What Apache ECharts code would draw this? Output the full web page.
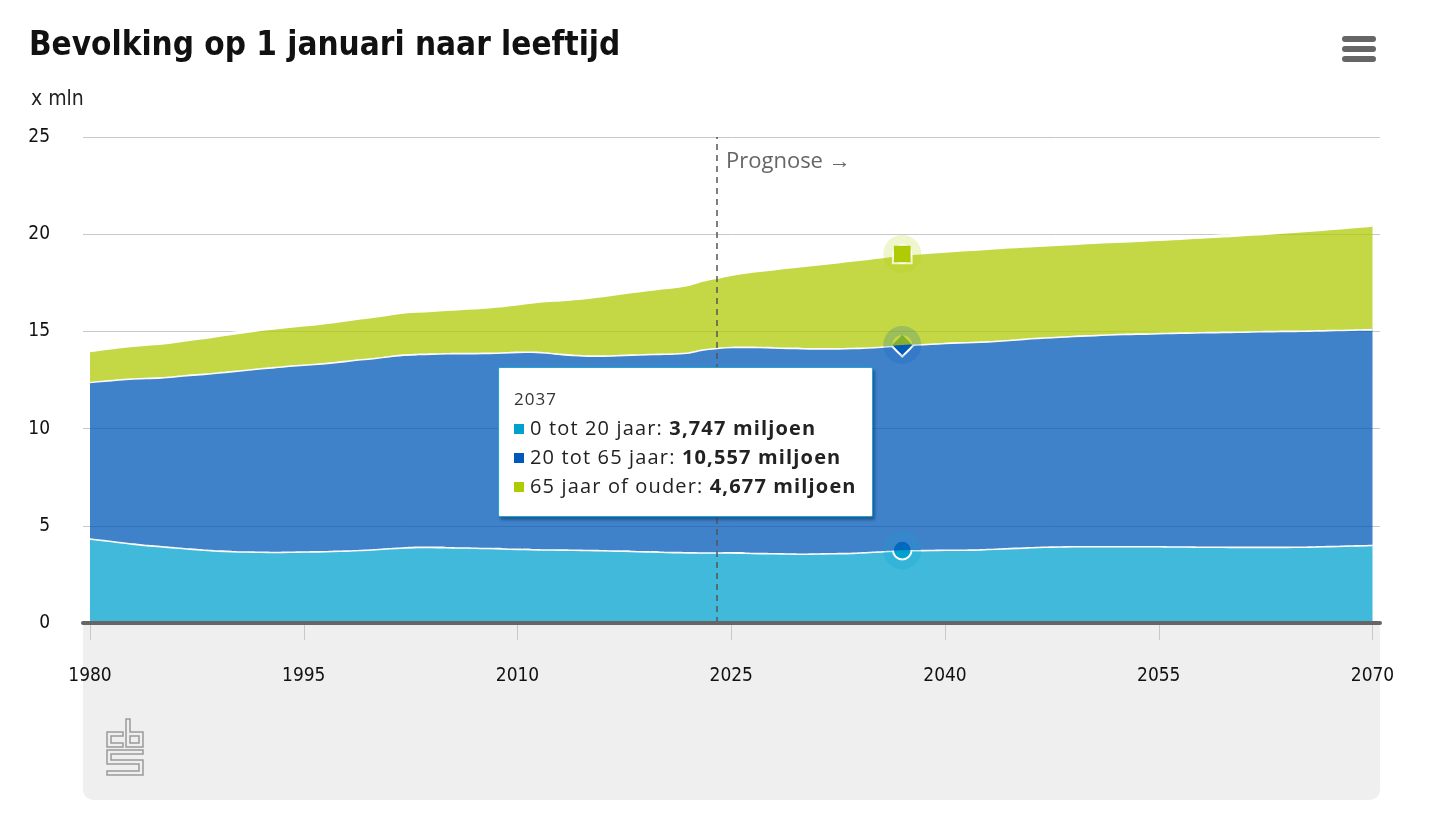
<!DOCTYPE html>
<html><head><meta charset="utf-8">
<script src="https://cdn.jsdelivr.net/npm/echarts@6/dist/echarts.min.js"></script>
<style>html,body{margin:0;padding:0;background:#fff;}#c{width:1432px;height:821px;}</style>
</head><body><div id="c"></div>
<script>
const years = [1980,1981,1982,1983,1984,1985,1986,1987,1988,1989,
1990,1991,1992,1993,1994,1995,1996,1997,1998,1999,
2000,2001,2002,2003,2004,2005,2006,2007,2008,2009,
2010,2011,2012,2013,2014,2015,2016,2017,2018,2019,
2020,2021,2022,2023,2024,2025,2026,2027,2028,2029,
2030,2031,2032,2033,2034,2035,2036,2037,2038,2039,
2040,2041,2042,2043,2044,2045,2046,2047,2048,2049,
2050,2051,2052,2053,2054,2055,2056,2057,2058,2059,
2060,2061,2062,2063,2064,2065,2066,2067,2068,2069,
2070];
const seriesNames = ['0 tot 20 jaar', '20 tot 65 jaar', '65 jaar of ouder'];
const young = [4.36,4.28,4.18,4.10,4.02,3.96,3.90,3.84,3.78,3.74,
3.71,3.69,3.68,3.67,3.68,3.69,3.70,3.72,3.74,3.77,
3.81,3.86,3.90,3.93,3.93,3.91,3.90,3.89,3.87,3.85,
3.83,3.81,3.80,3.79,3.78,3.77,3.76,3.74,3.72,3.70,
3.68,3.66,3.65,3.64,3.64,3.65,3.63,3.61,3.60,3.59,
3.58,3.59,3.60,3.61,3.64,3.68,3.72,3.747,3.76,3.77,
3.78,3.78,3.79,3.82,3.85,3.88,3.91,3.94,3.95,3.96,
3.96,3.96,3.96,3.96,3.96,3.96,3.95,3.95,3.94,3.94,
3.93,3.93,3.93,3.93,3.93,3.94,3.95,3.97,3.99,4.01,
4.03];
const working = [8.05,8.20,8.36,8.49,8.60,8.69,8.81,8.94,9.05,9.16,
9.26,9.35,9.44,9.51,9.57,9.61,9.65,9.70,9.76,9.81,
9.84,9.88,9.92,9.92,9.94,9.98,10.00,10.01,10.04,10.08,
10.13,10.16,10.13,10.07,10.02,10.00,10.01,10.05,10.10,10.14,
10.18,10.22,10.28,10.44,10.52,10.56,10.59,10.60,10.59,10.58,
10.57,10.55,10.54,10.54,10.53,10.52,10.53,10.557,10.58,10.61,
10.64,10.67,10.68,10.68,10.70,10.72,10.75,10.76,10.79,10.82,
10.85,10.88,10.91,10.93,10.94,10.96,10.99,11.00,11.03,11.04,
11.06,11.07,11.09,11.10,11.11,11.11,11.11,11.11,11.10,11.10,
11.09];
const old = [1.60,1.63,1.66,1.69,1.72,1.75,1.78,1.81,1.85,1.89,
1.93,1.96,1.98,2.00,2.01,2.03,2.05,2.07,2.09,2.11,
2.13,2.15,2.17,2.19,2.21,2.24,2.27,2.31,2.35,2.40,
2.46,2.54,2.65,2.76,2.88,2.98,3.07,3.15,3.22,3.29,
3.36,3.42,3.49,3.55,3.62,3.72,3.83,3.93,4.03,4.13,
4.23,4.32,4.40,4.47,4.53,4.59,4.63,4.677,4.69,4.70,
4.71,4.73,4.75,4.77,4.77,4.76,4.74,4.74,4.74,4.74,
4.75,4.76,4.76,4.77,4.80,4.81,4.83,4.86,4.88,4.91,
4.94,4.98,5.00,5.04,5.08,5.12,5.16,5.20,5.25,5.29,
5.35];
const xTicks = [1980, 1995, 2010, 2025, 2040, 2055, 2070];
const prognoseYear = 2024;
const tooltipYear = 2037;

const colors = ['#00a1cd', '#0058b8', '#afcb05'];
const symbols = ['circle', 'diamond', 'rect'];
const values = [young, working, old];
const cats = years.map(String);
const hi = years.indexOf(tooltipYear);
const cond = '"DejaVu Sans Condensed", "DejaVu Sans", sans-serif';
const sans = '"Open Sans", "Noto Sans", sans-serif';
const sansCss = "'Open Sans','Noto Sans',sans-serif";
const fmt = v => v.toFixed(3).replace('.', ',');
const isTick = (i, v) => xTicks.indexOf(Number(v)) >= 0;

const chart = echarts.init(document.getElementById('c'), null, {renderer: 'canvas'});

const series = values.map((arr, k) => ({
  name: seriesNames[k], type: 'line', stack: 'pop', z: k + 1,
  xAxisIndex: 0, yAxisIndex: 0,
  data: arr,
  smooth: 0.2, showSymbol: true, showAllSymbol: true,
  symbol: symbols[k],
  symbolSize: (v, p) => p.dataIndex === hi ? (k === 1 ? 21 : 17) : 0,
  itemStyle: {color: colors[k], borderColor: '#fff', borderWidth: 2},
  lineStyle: {color: '#fff', width: 3.2},
  areaStyle: {color: colors[k], opacity: 0.75},
  emphasis: {disabled: true},
  animation: false
}));
series[2].markLine = {
  silent: true, symbol: ['none', 'none'], label: {show: false}, animation: false,
  lineStyle: {color: '#555', type: [6, 5], width: 1.5},
  data: [{xAxis: String(prognoseYear)}]
};

chart.setOption({
  animation: false,
  title: [
    {text: 'Bevolking op 1 januari naar leeftijd', left: 24, top: 25,
     textStyle: {fontFamily: cond, fontWeight: 'bold', fontSize: 33, color: '#111'}},
    {text: 'x mln', left: 26, top: 84,
     textStyle: {fontFamily: cond, fontWeight: 'normal', fontSize: 21, color: '#222'}}
  ],
  grid: [
    {left: 90, right: 59.5, top: 137, bottom: 198},
    {left: 83, right: 52, top: 137, bottom: 198}
  ],
  xAxis: [
    {gridIndex: 0, type: 'category', data: cats, boundaryGap: false, z: 4,
     axisLine: {show: false},
     axisTick: {interval: isTick, length: 17, lineStyle: {color: '#c8c8c8', width: 1}},
     axisLabel: {interval: isTick, color: '#111', fontSize: 19, fontFamily: cond, margin: 44},
     splitLine: {show: false}},
    {gridIndex: 1, type: 'value', min: 0, max: 1, z: 6,
     axisLine: {lineStyle: {color: '#666', width: 4}},
     axisTick: {show: false}, axisLabel: {show: false}, splitLine: {show: false},
     axisPointer: {show: false, triggerTooltip: false}}
  ],
  yAxis: [
    {gridIndex: 0, type: 'value', min: 0, max: 25, interval: 5, show: false},
    {gridIndex: 1, type: 'value', min: 0, max: 25, interval: 5,
     axisLine: {show: false}, axisTick: {show: false},
     axisLabel: {color: '#111', fontSize: 19, fontFamily: cond, margin: 33},
     splitLine: {lineStyle: {color: '#c8c8c8', width: 1}},
     axisPointer: {show: false, triggerTooltip: false}}
  ],
  tooltip: {
    trigger: 'axis', alwaysShowContent: true, position: [498, 367], transitionDuration: 0,
    axisPointer: {type: 'line', lineStyle: {color: 'rgba(0,0,0,0)', width: 0}},
    backgroundColor: '#fff', borderColor: '#1ea7d2', borderWidth: 1.5, padding: [16, 15],
    extraCssText: 'box-shadow:2px 3px 3px rgba(0,40,80,0.45);border-radius:2px;',
    formatter: params => {
      const idx = params[0].dataIndex;
      let h = '<div style="font-family:' + sansCss + ';font-size:17px;letter-spacing:1px;line-height:29px;color:#333">' + years[idx] + '</div>';
      params.forEach(p => {
        const k = p.seriesIndex;
        h += '<div style="font-family:' + sansCss + ';font-size:20px;letter-spacing:1.15px;line-height:29px;color:#222;white-space:nowrap">' +
          '<span style="display:inline-block;width:10px;height:10px;background:' + colors[k] + ';margin-right:6px;vertical-align:1px"></span>' +
          seriesNames[k] + ': <b>' + fmt(values[k][idx]) + ' miljoen</b></div>';
      });
      return h;
    }
  },
  series: series
});

const px = chart.convertToPixel({xAxisIndex: 0, yAxisIndex: 0}, [years.indexOf(prognoseYear), 25]);
let cum = 0;
const halos = values.map((arr, k) => {
  cum += arr[hi];
  const p = chart.convertToPixel({xAxisIndex: 0, yAxisIndex: 0}, [hi, cum]);
  return {type: 'ring', shape: {cx: p[0], cy: p[1], r: 19, r0: 10}, style: {fill: colors[k], opacity: 0.2}, z: 10, silent: true};
});
const logoStroke = {stroke: '#9a9a9a', lineWidth: 1.5, fill: 'none'};
chart.setOption({
  graphic: [
    {type: 'rect', shape: {x: 83, y: 623, width: 1297, height: 177, r: [0, 0, 10, 10]}, style: {fill: '#efefef'}, z: -1, silent: true},
    {type: 'polygon', shape: {points: [[123,732],[107,732],[107,747],[123,747],[123,743],[111,743],[111,736],[123,736]]}, style: logoStroke, silent: true},
    {type: 'polygon', shape: {points: [[126,719],[130,719],[130,732],[143,732],[143,747],[126,747]]}, style: logoStroke, silent: true},
    {type: 'polygon', shape: {points: [[130,736],[139,736],[139,743],[130,743]]}, style: logoStroke, silent: true},
    {type: 'polygon', shape: {points: [[143,750],[107,750],[107,764],[139,764],[139,771],[107,771],[107,775],[143,775],[143,760],[111,760],[111,754],[143,754]]}, style: logoStroke, silent: true},
    {type: 'rect', shape: {x: 1342, y: 36, width: 34, height: 6, r: 3}, style: {fill: '#666'}, silent: true},
    {type: 'rect', shape: {x: 1342, y: 46, width: 34, height: 6, r: 3}, style: {fill: '#666'}, silent: true},
    {type: 'rect', shape: {x: 1342, y: 56, width: 34, height: 6, r: 3}, style: {fill: '#666'}, silent: true},
    {type: 'text', x: px[0] + 9, y: px[1] + 25, style: {text: 'Prognose \u2192', fill: '#666', font: '22px ' + sans, verticalAlign: 'middle'}, z: 10, silent: true}
  ].concat(halos)
});

chart.dispatchAction({type: 'showTip', seriesIndex: 0, dataIndex: hi});
</script></body></html>
